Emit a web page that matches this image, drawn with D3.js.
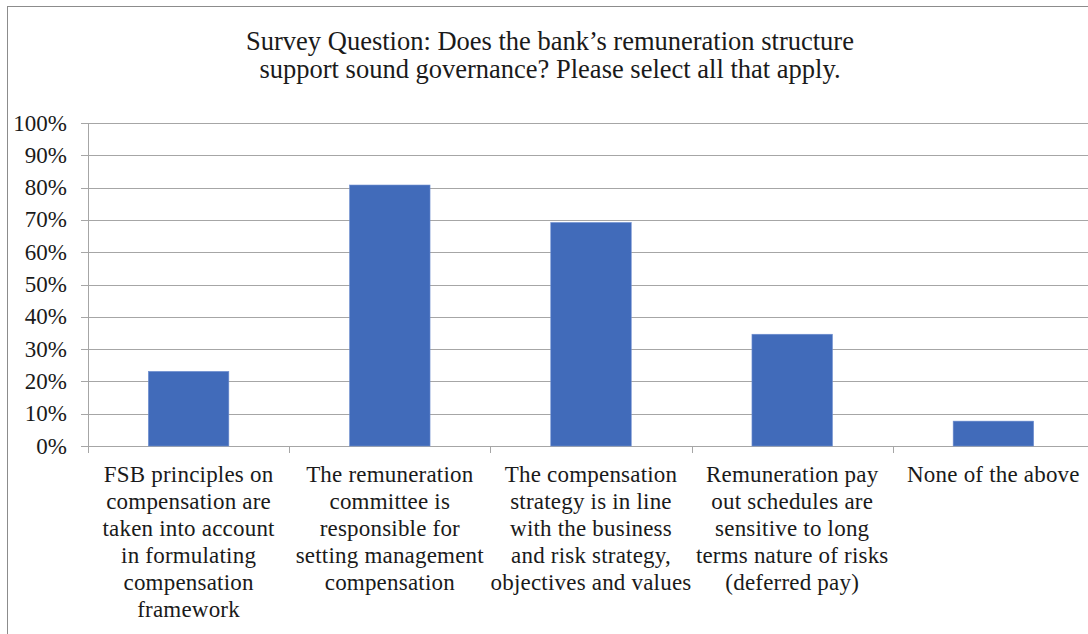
<!DOCTYPE html>
<html>
<head>
<meta charset="utf-8">
<script src="https://cdn.jsdelivr.net/npm/d3@7"></script>
<style>
  html, body { margin: 0; padding: 0; background: #fff; overflow: hidden; }
  svg { display: block; }
  text { font-family: "Liberation Serif", "DejaVu Serif", serif; fill: #1a1a1a; }
</style>
</head>
<body>
<svg id="chart" width="1088" height="634"></svg>
<script>
// Survey answers (share of respondents, multiple selection allowed)
const categories = [
  ["FSB principles on", "compensation are", "taken into account", "in formulating", "compensation", "framework"],
  ["The remuneration", "committee is", "responsible for", "setting management", "compensation"],
  ["The compensation", "strategy is in line", "with the business", "and risk strategy,", "objectives and values"],
  ["Remuneration pay", "out schedules are", "sensitive to long", "terms nature of risks", "(deferred pay)"],
  ["None of the above"]
];
const values = [0.231, 0.808, 0.692, 0.346, 0.077];
const yTicks = [0, 0.1, 0.2, 0.3, 0.4, 0.5, 0.6, 0.7, 0.8, 0.9, 1.0];
const titleLines = [
  "Survey Question: Does the bank\u2019s remuneration structure",
  "support sound governance? Please select all that apply."
];

const svg = d3.select("#chart");

// outer chart frame (extends past the right and bottom edges)
svg.append("rect")
  .attr("x", 7.5).attr("y", 6.5)
  .attr("width", 1200).attr("height", 800)
  .attr("fill", "#fff").attr("stroke", "#8c8c8c").attr("stroke-width", 1);

const plot = { left: 88, right: 1094, top: 123, bottom: 446 };

const x = d3.scaleBand()
  .domain(d3.range(categories.length))
  .range([plot.left, plot.right])
  .paddingInner(0.6).paddingOuter(0.3);

const bandStep = (plot.right - plot.left) / categories.length;

const y = d3.scaleLinear().domain([0, 1]).range([plot.bottom, plot.top]);

// horizontal gridlines
svg.append("g")
  .selectAll("line")
  .data(yTicks)
  .join("line")
  .attr("x1", plot.left - 7).attr("x2", plot.right)
  .attr("y1", d => Math.round(y(d)) + 0.5).attr("y2", d => Math.round(y(d)) + 0.5)
  .attr("stroke", "#a6a6a6").attr("stroke-width", 1);

// y axis line
svg.append("line")
  .attr("x1", plot.left + 0.5).attr("x2", plot.left + 0.5)
  .attr("y1", plot.top).attr("y2", plot.bottom)
  .attr("stroke", "#a6a6a6");

// y tick labels
svg.append("g")
  .selectAll("text")
  .data(yTicks)
  .join("text")
  .attr("x", 67)
  .attr("y", d => y(d) + 7.5)
  .attr("text-anchor", "end")
  .attr("font-size", 23)
  .text(d => d3.format(".0%")(d));

// category separator ticks below the baseline
svg.append("g")
  .selectAll("line")
  .data(d3.range(categories.length + 1))
  .join("line")
  .attr("x1", i => Math.round(plot.left + i * bandStep) + 0.5)
  .attr("x2", i => Math.round(plot.left + i * bandStep) + 0.5)
  .attr("y1", plot.bottom).attr("y2", plot.bottom + 7)
  .attr("stroke", "#a6a6a6");

// bars
svg.append("g")
  .selectAll("rect")
  .data(values)
  .join("rect")
  .attr("x", (d, i) => x(i))
  .attr("width", x.bandwidth())
  .attr("y", d => y(d))
  .attr("height", d => y(0) - y(d))
  .attr("fill", "#416bba")
  .attr("stroke", "#6f8fd0").attr("stroke-width", 0.6);

// category labels
const catG = svg.append("g");
categories.forEach((lines, i) => {
  const cx = x(i) + x.bandwidth() / 2;
  const t = catG.append("text")
    .attr("text-anchor", "middle")
    .attr("font-size", 23)
    .attr("letter-spacing", 0.2);
  lines.forEach((ln, j) => {
    t.append("tspan").attr("x", cx).attr("y", 482 + j * 26.9).text(ln);
  });
});

// title
const title = svg.append("text")
  .attr("text-anchor", "middle")
  .attr("font-size", 26.5);
titleLines.forEach((ln, j) => {
  title.append("tspan").attr("x", 550).attr("y", 50 + j * 28).text(ln);
});
</script>
</body>
</html>
